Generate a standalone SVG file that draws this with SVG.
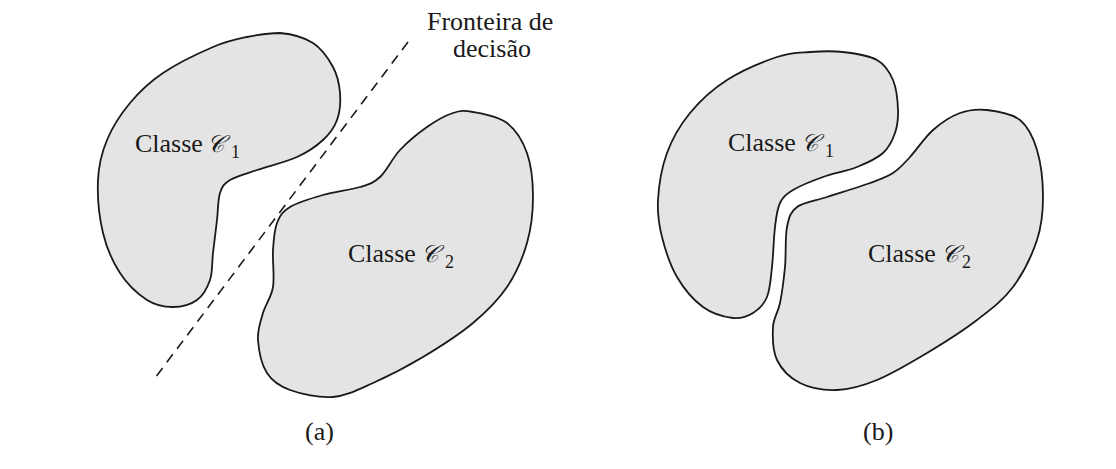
<svg xmlns="http://www.w3.org/2000/svg" width="1116" height="469" viewBox="0 0 1116 469">
<style>
.blob{fill:#e4e4e4;stroke:#1a1a1a;stroke-width:1.8;stroke-linejoin:round}
.t{font-family:"Liberation Serif","Times New Roman",serif;font-size:26px;fill:#1a1a1a}
.sub{font-family:"Liberation Serif","Times New Roman",serif;font-size:18px;fill:#1a1a1a}
.cal{font-family:"DejaVu Serif","Noto Sans","DejaVu Sans",serif;font-size:24px;font-style:italic;fill:#1a1a1a}
.dash{fill:none;stroke:#1a1a1a;stroke-width:1.6;stroke-dasharray:10 7}
</style>
<rect width="1116" height="469" fill="#ffffff"/>
<g id="panel-a">
<g id="a-class1">
<path class="blob" d="M280,33 C291,34 304.2,37.3 313,43 C321.8,48.7 328.5,58.7 333,67 C337.5,75.3 339.3,84.2 340,93 C340.7,101.8 339.8,112.2 337,120 C334.2,127.8 329.7,133.8 323,140 C316.3,146.2 308,152 297,157 C286,162 268.2,166.2 257,170 C245.8,173.8 236.2,176.2 230,180 C223.8,183.8 222.2,186.3 220,193 C217.8,199.7 218.2,210 217,220 C215.8,230 214.2,243 213,253 C211.8,263 212.7,272.2 210,280 C207.3,287.8 203.2,295.5 197,300 C190.8,304.5 181.3,307 173,307 C164.7,307 155.8,305.7 147,300 C138.2,294.3 127.3,284.2 120,273 C112.7,261.8 106.7,248.5 103,233 C99.3,217.5 97.3,195.5 98,180 C98.7,164.5 101.7,152.8 107,140 C112.3,127.2 120.7,114.2 130,103 C139.3,91.8 149.2,82.3 163,73 C176.8,63.7 199,53 213,47 C227,41 235.8,39.3 247,37 C258.2,34.7 269,33 280,33 Z"/>
<text class="t" x="135" y="152">Classe</text>
<text class="cal" x="207" y="152">𝒞</text>
<text class="sub" x="231" y="158">1</text>
</g>
<g id="a-class2">
<path class="blob" d="M473,112 C482,113.7 498,116.2 507,123 C516,129.8 522.7,140.7 527,153 C531.3,165.3 533,182 533,197 C533,212 531.3,228 527,243 C522.7,258 516,273.7 507,287 C498,300.3 487,311.3 473,323 C459,334.7 439.7,347 423,357 C406.3,367 388,376.3 373,383 C358,389.7 346.8,395.8 333,397 C319.2,398.2 301,394 290,390 C279,386 272.3,381.3 267,373 C261.7,364.7 258.7,350 258,340 C257.3,330 260.5,321.8 263,313 C265.5,304.2 271.3,297.5 273,287 C274.7,276.5 272.3,260.7 273,250 C273.7,239.3 274.2,230.2 277,223 C279.8,215.8 282.3,211.7 290,207 C297.7,202.3 311.3,198.3 323,195 C334.7,191.7 350.5,190 360,187 C369.5,184 373.3,183.2 380,177 C386.7,170.8 392.2,158.3 400,150 C407.8,141.7 418.2,133.2 427,127 C435.8,120.8 445.3,115.5 453,113 C460.7,110.5 464,110.3 473,112 Z"/>
<text class="t" x="348" y="262">Classe</text>
<text class="cal" x="421" y="262">𝒞</text>
<text class="sub" x="445" y="268">2</text>
</g>
<g id="decision-boundary">
<line class="dash" x1="408" y1="42" x2="155" y2="378"/>
<text class="t" x="427" y="30">Fronteira de</text>
<text class="t" x="453" y="57">decisão</text>
</g>
<text class="t" x="305" y="440">(a)</text>
</g>
<g id="panel-b">
<g id="b-class1">
<path class="blob" d="M843,52 C854.2,53.3 868.7,55.3 877,60 C885.3,64.7 889.5,71.7 893,80 C896.5,88.3 897.7,101.2 898,110 C898.3,118.8 897.5,125.8 895,133 C892.5,140.2 889.3,147.3 883,153 C876.7,158.7 867,163 857,167 C847,171 833.7,173.2 823,177 C812.3,180.8 800.2,185.7 793,190 C785.8,194.3 783,196.8 780,203 C777,209.2 776.3,216.3 775,227 C773.7,237.7 773.3,255.3 772,267 C770.7,278.7 770.2,289.3 767,297 C763.8,304.7 758.7,309.5 753,313 C747.3,316.5 741.3,319 733,318 C724.7,317 712.3,313.8 703,307 C693.7,300.2 683.8,288.7 677,277 C670.2,265.3 665.2,249.8 662,237 C658.8,224.2 657.2,214 658,200 C658.8,186 661.7,167.5 667,153 C672.3,138.5 680,125.2 690,113 C700,100.8 712.5,89.3 727,80 C741.5,70.7 763.2,61.7 777,57 C790.8,52.3 799,52.8 810,52 C821,51.2 831.8,50.7 843,52 Z"/>
<text class="t" x="728" y="151">Classe</text>
<text class="cal" x="801" y="151">𝒞</text>
<text class="sub" x="825" y="157">1</text>
</g>
<g id="b-class2">
<path class="blob" d="M987,110 C997,111.2 1011.7,113.3 1020,120 C1028.3,126.7 1033.2,137.2 1037,150 C1040.8,162.8 1043,182 1043,197 C1043,212 1042,225 1037,240 C1032,255 1023,273.7 1013,287 C1003,300.3 991.3,309 977,320 C962.7,331 943.7,343 927,353 C910.3,363 892,373.8 877,380 C862,386.2 849.8,389.5 837,390 C824.2,390.5 810,388 800,383 C790,378 781.5,369.3 777,360 C772.5,350.7 772.5,336.5 773,327 C773.5,317.5 778,313 780,303 C782,293 783.8,279.7 785,267 C786.2,254.3 785,237 787,227 C789,217 790.3,212 797,207 C803.7,202 814.8,201 827,197 C839.2,193 859,187 870,183 C881,179 886.3,177.3 893,173 C899.7,168.7 903.3,164.2 910,157 C916.7,149.8 924.7,137.3 933,130 C941.3,122.7 951,116.3 960,113 C969,109.7 977,108.8 987,110 Z"/>
<text class="t" x="868" y="262">Classe</text>
<text class="cal" x="941" y="262">𝒞</text>
<text class="sub" x="962" y="268">2</text>
</g>
<text class="t" x="863" y="440">(b)</text>
</g>
<g id="connectors"/>
</svg>
